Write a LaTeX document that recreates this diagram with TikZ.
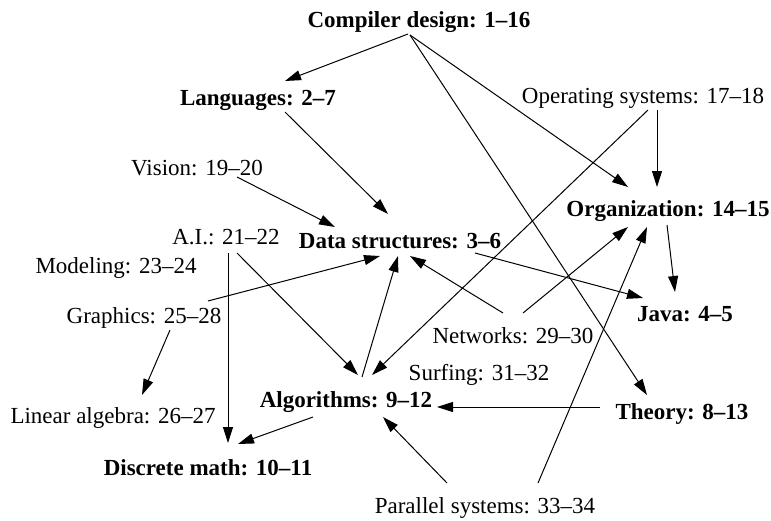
\documentclass[tikz,border=0pt]{standalone}
\usepackage{fontspec}
\setmainfont{Liberation Serif}
\usetikzlibrary{arrows.meta}
\tikzset{
  lbl/.style={anchor=base, inner sep=0pt, font=\fontsize{11.5}{13}\selectfont},
  blbl/.style={lbl, font=\fontsize{11.5}{13}\selectfont\bfseries},
  arr/.style={line width=0.5pt, -{Triangle[length=8pt,width=5pt]}}
}
\begin{document}
\begin{tikzpicture}[x=0.5pt,y=-0.5pt]
\useasboundingbox (0,0) rectangle (771,520);
\node[blbl] (cd) at (419,27) {Compiler design: 1--16};
\node[blbl] (lang) at (258,105) {Languages: 2--7};
\node[lbl] (os) at (643,103) {Operating systems: 17--18};
\node[lbl] (vis) at (197,175) {Vision: 19--20};
\node[lbl] (ai) at (226,244) {A.I.: 21--22};
\node[blbl] (ds) at (400,248) {Data structures: 3--6};
\node[lbl] (mod) at (116,273) {Modeling: 23--24};
\node[lbl] (gr) at (144,323) {Graphics: 25--28};
\node[blbl] (org) at (668,216) {Organization: 14--15};
\node[blbl] (java) at (685,321) {Java: 4--5};
\node[lbl] (net) at (513,343) {Networks: 29--30};
\node[lbl] (surf) at (479,380) {Surfing: 31--32};
\node[blbl] (alg) at (346,407) {Algorithms: 9--12};
\node[blbl] (th) at (682,419) {Theory: 8--13};
\node[lbl] (la) at (113,423) {Linear algebra: 26--27};
\node[blbl] (dm) at (208,475) {Discrete math: 10--11};
\node[lbl] (par) at (485,513) {Parallel systems: 33--34};

\draw[arr] ([shift={(-11,7)}]cd.base) -- ([shift={(27,-24)}]lang.base);
\draw[arr] ([shift={(-9,8)}]cd.base) -- ([shift={(-35,-24)}]th.base);
\draw[arr] ([shift={(-9,8)}]cd.base) -- ([shift={(-40,-29)}]org.base);
\draw[arr] ([shift={(27,7)}]lang.base) -- ([shift={(-12,-34)}]ds.base);
\draw[arr] ([shift={(14,7)}]os.base) -- ([shift={(-11,-29)}]org.base);
\draw[arr] ([shift={(5,7)}]os.base) -- ([shift={(26,-32)}]alg.base);
\draw[arr] ([shift={(40,2)}]vis.base) -- ([shift={(-65,-21)}]ds.base);
\draw[arr] ([shift={(2,9)}]ai.base) -- ([shift={(20,-32)}]dm.base);
\draw[arr] ([shift={(11,9)}]ai.base) -- ([shift={(12,-32)}]alg.base);
\draw[arr] ([shift={(64,-22)}]gr.base) -- ([shift={(-20,8)}]ds.base);
\draw[arr] ([shift={(26,7)}]gr.base) -- ([shift={(29,-28)}]la.base);
\draw[arr] ([shift={(16,-30)}]alg.base) -- ([shift={(-2,8)}]ds.base);
\draw[arr] ([shift={(-10,-30)}]net.base) -- ([shift={(10,8)}]ds.base);
\draw[arr] ([shift={(10,-30)}]net.base) -- ([shift={(-40,11)}]org.base);
\draw[arr] ([shift={(75,5)}]ds.base) -- ([shift={(-42,-23)}]java.base);
\draw[arr] ([shift={(-1,9)}]org.base) -- ([shift={(-10,-29)}]java.base);
\draw[arr] ([shift={(-82,-12)}]th.base) -- ([shift={(91,0)}]alg.base);
\draw[arr] ([shift={(-38,-30)}]par.base) -- ([shift={(37,10)}]alg.base);
\draw[arr] ([shift={(53,-30)}]par.base) -- ([shift={(-21,11)}]org.base);
\draw[arr] ([shift={(-33,10)}]alg.base) -- ([shift={(30,-31)}]dm.base);
\end{tikzpicture}
\end{document}
